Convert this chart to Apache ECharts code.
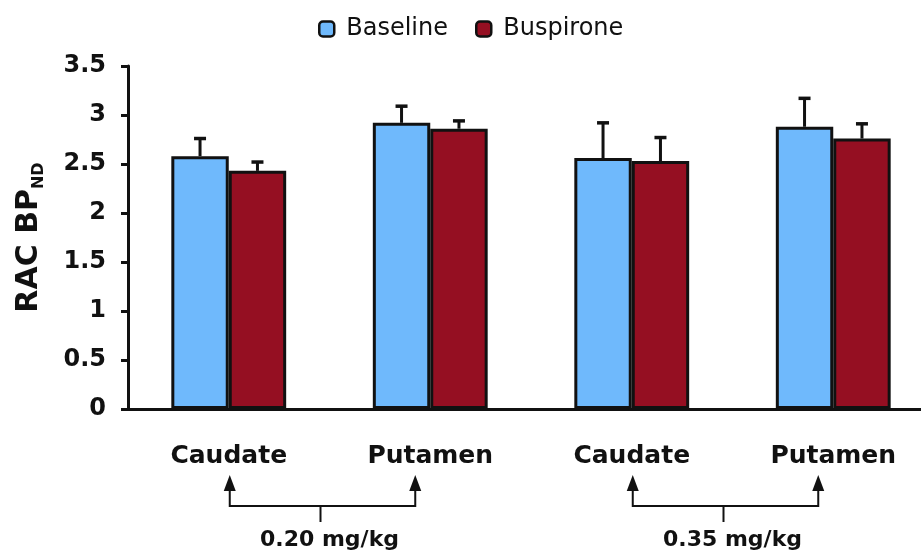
<!DOCTYPE html>
<html><head><meta charset="utf-8">
<script src="https://cdn.jsdelivr.net/npm/echarts@6/dist/echarts.min.js"></script>
<style>html,body{margin:0;padding:0;background:#fff}#c{width:921px;height:551px}</style>
</head><body><div id="c"></div>
<script>
const categories = ['Caudate', 'Putamen', 'Caudate', 'Putamen'];
const seriesNames = ['Baseline', 'Buspirone'];
const baseline = [2.58, 2.92, 2.56, 2.88];
const baselineErr = [0.18, 0.17, 0.36, 0.29];
const buspirone = [2.43, 2.86, 2.53, 2.76];
const buspironeErr = [0.09, 0.08, 0.24, 0.15];
const yTickLabels = ['0', '0.5', '1', '1.5', '2', '2.5', '3', '3.5'];
const doseLabels = ['0.20 mg/kg', '0.35 mg/kg'];
const doseGroups = [[0, 1], [2, 3]];

const FONT = 'DejaVu Sans';
const INK = '#111';
const BAR_FRAC = 0.285;
const colors = ['#6fb9fc', '#950f22'];

const chart = echarts.init(document.getElementById('c'), null, {renderer: 'canvas'});

function errSeries(name, vals, errs, side) {
  return {
    type: 'custom', name: name + ' SEM', z: 5, silent: true,
    data: vals.map((v, i) => [i, v, errs[i]]),
    encode: {x: 0, y: 1},
    renderItem(params, api) {
      const i = api.value(0), v = api.value(1), e = api.value(2);
      const band = api.size([1, 0])[0];
      const p0 = api.coord([i, v]);
      const p1 = api.coord([i, v + e]);
      const x = p0[0] + side * band * BAR_FRAC / 2;
      return {type: 'group', children: [
        {type: 'line', shape: {x1: x, y1: p0[1], x2: x, y2: p1[1]}, style: {stroke: INK, lineWidth: 3}},
        {type: 'line', shape: {x1: x - 6, y1: p1[1], x2: x + 6, y2: p1[1]}, style: {stroke: INK, lineWidth: 3.5}}
      ]};
    }
  };
}

chart.setOption({
  animation: false,
  backgroundColor: '#fff',
  legend: {
    data: seriesNames, left: 318, top: 17, padding: 0,
    itemWidth: 15, itemHeight: 15, itemGap: 27, icon: 'roundRect',
    itemStyle: {borderColor: INK, borderWidth: 2.5},
    textStyle: {fontFamily: FONT, fontSize: 24, color: INK, padding: [0, 0, 0, 7]}
  },
  grid: {left: 128, top: 66, width: 806, height: 343, outerBoundsMode: 'none', containLabel: false},
  xAxis: {
    type: 'category', data: categories,
    axisLine: {show: true, lineStyle: {color: INK, width: 3}},
    axisTick: {show: false},
    axisLabel: {margin: 35, fontFamily: FONT, fontSize: 25, fontWeight: 'bold', color: INK, interval: 0},
    splitLine: {show: false}
  },
  yAxis: {
    type: 'value', min: 0, max: 3.5, interval: 0.5,
    name: '{a|RAC BP}{b|ND}', nameLocation: 'middle', nameGap: 84,
    nameTextStyle: {rich: {
      a: {fontFamily: FONT, fontSize: 30, fontWeight: 'bold', color: INK},
      b: {fontFamily: FONT, fontSize: 16, fontWeight: 'bold', color: INK, verticalAlign: 'bottom', padding: [0, 0, -3, 0]}
    }},
    axisLine: {show: true, lineStyle: {color: INK, width: 3}},
    axisTick: {show: true, length: 7, lineStyle: {color: INK, width: 3}},
    axisLabel: {margin: 22, fontFamily: FONT, fontSize: 24, fontWeight: 'bold', color: INK,
      formatter: (v) => yTickLabels[Math.round(v / 0.5)]},
    splitLine: {show: false}
  },
  series: [
    {type: 'bar', name: seriesNames[0], data: baseline, barWidth: (BAR_FRAC * 100) + '%', barGap: '0%',
      itemStyle: {color: colors[0], borderColor: INK, borderWidth: 3}},
    {type: 'bar', name: seriesNames[1], data: buspirone, barWidth: (BAR_FRAC * 100) + '%', barGap: '0%',
      itemStyle: {color: colors[1], borderColor: INK, borderWidth: 3}},
    errSeries(seriesNames[0], baseline, baselineErr, -1),
    errSeries(seriesNames[1], buspirone, buspironeErr, 1)
  ]
});

// Dose brackets below the category labels
const graphics = [];
doseGroups.forEach((g, k) => {
  const xL = chart.convertToPixel({xAxisIndex: 0}, g[0]) + 1;
  const xR = chart.convertToPixel({xAxisIndex: 0}, g[1]) - 15;
  const mid = (xL + xR) / 2;
  const yTip = 475, yBase = 490, yH = 506, yTick = 522;
  graphics.push(
    {type: 'polyline', shape: {points: [[xL, yBase], [xL, yH], [xR, yH], [xR, yBase]]}, style: {stroke: INK, lineWidth: 2, fill: null}},
    {type: 'line', shape: {x1: mid - 2, y1: yH, x2: mid - 2, y2: yTick}, style: {stroke: INK, lineWidth: 2}},
    {type: 'polygon', shape: {points: [[xL, yTip], [xL - 6, yBase + 1], [xL + 6, yBase + 1]]}, style: {fill: INK}},
    {type: 'polygon', shape: {points: [[xR, yTip], [xR - 6, yBase + 1], [xR + 6, yBase + 1]]}, style: {fill: INK}},
    {type: 'text', x: mid + 7, y: 540, style: {text: doseLabels[k], fontFamily: FONT, fontSize: 22, fontWeight: 'bold', fill: INK, align: 'center', verticalAlign: 'middle'}}
  );
});
chart.setOption({graphic: graphics});
</script></body></html>
